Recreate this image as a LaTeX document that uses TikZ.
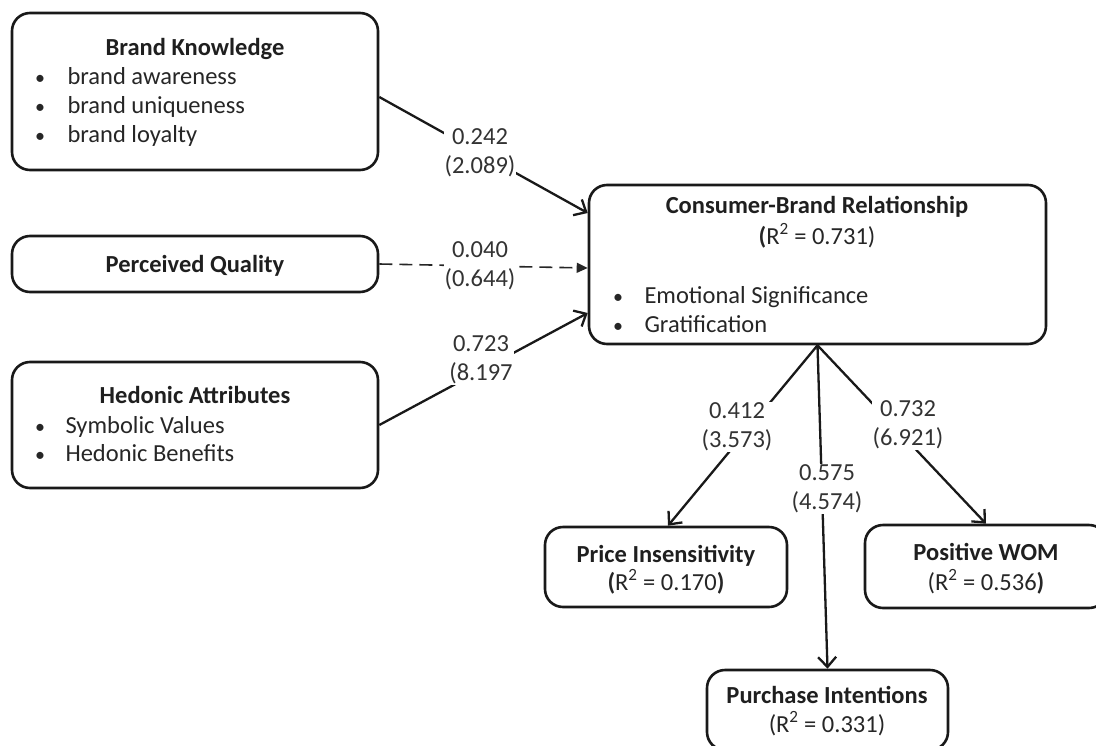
\documentclass[tikz,border=0pt]{standalone}
\usepackage{fontspec}
\setmainfont{Carlito}
\usetikzlibrary{arrows.meta}
\begin{document}
\begin{tikzpicture}[x=1pt,y=-1pt,
  font=\fontsize{24.5}{29}\selectfont,
  box/.style={draw=black!90, line width=2.6pt, rounded corners=18pt, inner sep=0pt},
  ttl/.style={anchor=base, font=\fontsize{24.5}{29}\selectfont\bfseries, text=black!88},
  itm/.style={anchor=base west, text=black!85},
  dot/.style={anchor=base, text=black!85, font=\fontsize{20}{29}\selectfont},
  rsq/.style={anchor=base, text=black!85},
  lbl/.style={fill=white, inner sep=1pt, align=center, text=black!80},
  path/.style={line width=2.3pt, draw=black!90, -{Straight Barb[length=10pt,width=18pt,line width=2.3pt]}},
  weak/.style={line width=1.6pt, draw=black!85, dash pattern=on 13pt off 7pt, -{Triangle[length=11pt,width=10pt]}}]
\useasboundingbox (0,0) rectangle (1096,745);
\clip (0,0) rectangle (1096,745);

% exogenous constructs
\node[box, minimum width=366pt, minimum height=157pt] (bk) at (195,91.5) {};
\node[box, minimum width=366pt, minimum height=56pt] (pq) at (195,264) {};
\node[box, minimum width=366pt, minimum height=126pt] (ha) at (195,425) {};
% mediator
\node[box, minimum width=457pt, minimum height=159pt] (cbr) at (817.5,264.5) {};
% outcomes
\node[box, minimum width=242pt, minimum height=80pt] (pi) at (666,567) {};
\node[box, minimum width=242pt, minimum height=83pt] (wom) at (986,566.5) {};
\node[box, minimum width=241pt, minimum height=80pt] (pint) at (827.5,710) {};

% box contents
\node[ttl] (bkt) at (195,55) {Brand Knowledge};
\node[dot] (bkd1) at (40,84) {•};
\node[itm] (bk1) at (64,84) {brand awareness};
\node[dot] (bkd2) at (40,113) {•};
\node[itm] (bk2) at (64,113) {brand uniqueness};
\node[dot] (bkd3) at (40,142) {•};
\node[itm] (bk3) at (64,142) {brand loyalty};

\node[ttl] (pqt) at (195,272) {Perceived Quality};

\node[ttl] (hat) at (195,403) {Hedonic Attributes};
\node[dot] (had1) at (40,433) {•};
\node[itm] (ha1) at (62,433) {Symbolic Values};
\node[dot] (had2) at (40,461) {•};
\node[itm] (ha2) at (62,461) {Hedonic Benefits};

\node[ttl] (cbrt) at (817,213) {Consumer-Brand Relationship};
\node[rsq] (cbrr) at (817,244) {\textbf{(}R\textsuperscript{2} = 0.731)};
\node[dot] (cbrd1) at (618,303) {•};
\node[itm] (cbr1) at (641,303) {Emotional Significance};
\node[dot] (cbrd2) at (618,332) {•};
\node[itm] (cbr2) at (641,332) {Gratification};

\node[ttl] (pit) at (666,562) {Price Insensitivity};
\node[rsq] (pir) at (666,590) {\textbf{(}R\textsuperscript{2} = 0.170\textbf{)}};
\node[ttl] (womt) at (986,560) {Positive WOM};
\node[rsq] (womr) at (986,590) {(R\textsuperscript{2} = 0.536\textbf{)}};
\node[ttl] (pintt) at (827,703) {Purchase Intentions};
\node[rsq] (pintr) at (827,732) {(R\textsuperscript{2} = 0.331)};

% structural paths
\draw[path] ([yshift=-5.5pt]bk.east) -- ([yshift=51.5pt]cbr.west);
\draw[weak] (pq.east) -- ([yshift=-3.5pt]cbr.west);
\draw[path] (ha.east) -- ([yshift=-48.5pt]cbr.west);
\draw[path] (cbr.south) -- ([xshift=2pt]pi.north);
\draw[path] (cbr.south) -- (pint.north);
\draw[path] (cbr.south) -- (wom.north);

% path coefficients (t-values)
\node[lbl] (c1) at (480,153) {0.242\\(2.089)};
\node[lbl] (c2) at (480,266) {0.040\\(0.644)};
\node[lbl] (c3) at (481,360) {0.723\\(8.197};
\node[lbl] (c4) at (737,427) {0.412\\(3.573)};
\node[lbl] (c5) at (827,489) {0.575\\(4.574)};
\node[lbl] (c6) at (908,425) {0.732\\(6.921)};
\end{tikzpicture}
\end{document}
